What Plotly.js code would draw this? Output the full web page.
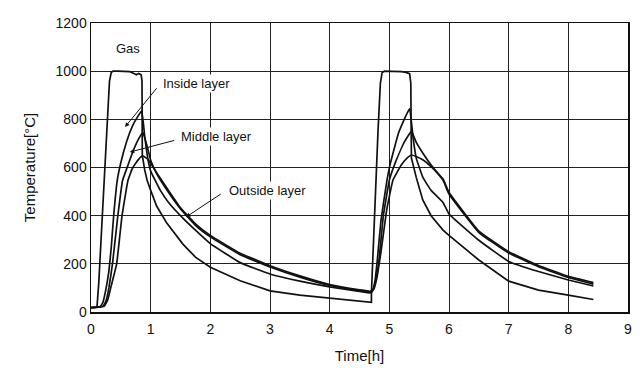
<!DOCTYPE html>
<html>
<head>
<meta charset="utf-8">
<script src="https://cdn.plot.ly/plotly-3.0.1.min.js"></script>
<style>html,body{margin:0;padding:0;background:#fff;}#chart{width:642px;height:372px;}</style>
</head>
<body>
<div id="chart"></div>
<script>
// Time [h] and temperature [°C] readings for each curve
const gasTime = [0, 0.1, 0.13, 0.17, 0.22, 0.27, 0.31, 0.34, 0.37, 0.45, 0.55, 0.65, 0.72, 0.76, 0.8, 0.84, 0.855, 0.86, 0.9, 0.94, 1.0, 1.1, 1.27, 1.54, 1.75, 2.0, 2.5, 3.0, 3.5, 4.0, 4.5, 4.7, 4.7, 4.74, 4.77, 4.81, 4.85, 4.88, 4.92, 5.0, 5.1, 5.2, 5.28, 5.34, 5.36, 5.37, 5.45, 5.56, 5.7, 5.9, 6.0, 6.5, 7.0, 7.5, 8.0, 8.42];
const gasTemp = [18, 20, 120, 320, 560, 800, 960, 995, 1000, 1000, 1000, 998, 990, 985, 990, 985, 960, 650, 590, 547, 505, 440, 369, 282, 228, 186, 130, 88, 70, 58, 46, 40, 79, 330, 547, 750, 950, 995, 1000, 1000, 1000, 998, 995, 990, 950, 640, 560, 465, 400, 340, 318, 216, 128, 91, 70, 52];

const insideTime = [0, 0.15, 0.2, 0.25, 0.3, 0.34, 0.38, 0.44, 0.5, 0.6, 0.7, 0.78, 0.85, 0.9, 0.95, 1.0, 1.16, 1.3, 1.54, 1.75, 2.0, 2.5, 3.0, 3.5, 4.0, 4.5, 4.68, 4.72, 4.76, 4.8, 4.86, 4.96, 5.02, 5.15, 5.25, 5.34, 5.4, 5.45, 5.56, 5.7, 5.9, 6.0, 6.5, 7.0, 7.5, 8.0, 8.42];
const insideTemp = [18, 22, 40, 95, 170, 270, 400, 547, 620, 710, 775, 810, 835, 730, 640, 585, 506, 455, 390, 340, 284, 205, 158, 128, 104, 85, 79, 88, 130, 220, 380, 547, 620, 740, 800, 845, 720, 640, 560, 505, 455, 407, 298, 210, 168, 133, 108];

const middleTime = [0, 0.2, 0.25, 0.3, 0.36, 0.45, 0.53, 0.62, 0.7, 0.8, 0.87, 0.95, 1.0, 1.1, 1.29, 1.5, 1.75, 2.0, 2.5, 3.0, 3.5, 4.0, 4.5, 4.68, 4.72, 4.76, 4.82, 4.9, 5.0, 5.1, 5.25, 5.37, 5.45, 5.56, 5.7, 5.9, 6.0, 6.5, 7.0, 7.5, 8.0, 8.42];
const middleTemp = [18, 24, 45, 100, 200, 400, 547, 610, 665, 720, 745, 680, 630, 575, 500, 428, 360, 312, 238, 187, 145, 110, 88, 82, 90, 120, 200, 400, 547, 620, 705, 750, 705, 660, 610, 548, 490, 330, 245, 188, 143, 116];

const outsideTime = [0, 0.22, 0.28, 0.34, 0.43, 0.52, 0.62, 0.7, 0.8, 0.87, 0.95, 1.0, 1.1, 1.29, 1.5, 1.75, 2.0, 2.5, 3.0, 3.5, 4.0, 4.5, 4.68, 4.74, 4.79, 4.86, 4.96, 5.06, 5.2, 5.3, 5.37, 5.45, 5.56, 5.7, 5.9, 6.0, 6.5, 7.0, 7.5, 8.0, 8.42];
const outsideTemp = [18, 24, 50, 110, 200, 400, 547, 600, 635, 648, 635, 618, 578, 508, 433, 366, 318, 244, 192, 150, 114, 92, 86, 95, 140, 250, 430, 547, 610, 640, 652, 646, 632, 604, 552, 496, 336, 250, 193, 148, 122];

const xTicks = [0, 1, 2, 3, 4, 5, 6, 7, 8, 9];
const yTicks = [0, 200, 400, 600, 800, 1000, 1200];

const lineStyle = {color: '#111', width: 1.7, shape: 'spline', smoothing: 0.3};
const traces = [
  {x: gasTime, y: gasTemp, name: 'Gas', mode: 'lines', line: Object.assign({}, lineStyle, {shape: 'linear'})},
  {x: insideTime, y: insideTemp, name: 'Inside layer', mode: 'lines', line: lineStyle},
  {x: middleTime, y: middleTemp, name: 'Middle layer', mode: 'lines', line: lineStyle},
  {x: outsideTime, y: outsideTemp, name: 'Outside layer', mode: 'lines', line: lineStyle}
];

const fontFam = 'Liberation Sans, Arial, sans-serif';
const annFont = {family: fontFam, size: 13, color: '#111'};
const layout = {
  width: 642, height: 372,
  margin: {l: 91, r: 14, t: 23, b: 60},
  paper_bgcolor: '#fff', plot_bgcolor: '#fff',
  showlegend: false,
  font: {family: fontFam, size: 13, color: '#111'},
  xaxis: {
    range: [0, 9], tickvals: xTicks, ticktext: xTicks.map(String),
    showgrid: true, gridcolor: '#222', gridwidth: 1,
    showline: true, linecolor: '#111', linewidth: 1.5, mirror: true,
    zeroline: false, ticks: '', ticklen: 0, ticklabelstandoff: 4,
    tickfont: {family: fontFam, size: 14, color: '#111'},
    title: {text: 'Time[h]', font: {family: fontFam, size: 15, color: '#111'}, standoff: 14}
  },
  yaxis: {
    range: [0, 1200], tickvals: yTicks, ticktext: yTicks.map(String),
    showgrid: true, gridcolor: '#222', gridwidth: 1,
    showline: true, linecolor: '#111', linewidth: 1.5, mirror: true,
    zeroline: false, ticks: '', ticklen: 0,
    tickfont: {family: fontFam, size: 14, color: '#111'},
    title: {text: 'Temperature[°C]', font: {family: fontFam, size: 15, color: '#111'}, standoff: 16}
  },
  annotations: [
    {x: 0.62, y: 1095, xref: 'x', yref: 'y', text: 'Gas', showarrow: false, font: annFont, bgcolor: '#fff'},
    {x: 1.17, y: 950, xref: 'x', yref: 'y', text: 'Inside layer', showarrow: false, xanchor: 'left', font: annFont, bgcolor: '#fff'},
    {x: 0.57, y: 768, xref: 'x', yref: 'y', ax: 1.12, ay: 935, axref: 'x', ayref: 'y', text: '', showarrow: true, arrowhead: 2, arrowsize: 0.9, arrowwidth: 1, arrowcolor: '#111'},
    {x: 1.47, y: 730, xref: 'x', yref: 'y', text: 'Middle layer', showarrow: false, xanchor: 'left', font: annFont, bgcolor: '#fff'},
    {x: 0.65, y: 664, xref: 'x', yref: 'y', ax: 1.42, ay: 714, axref: 'x', ayref: 'y', text: '', showarrow: true, arrowhead: 2, arrowsize: 0.9, arrowwidth: 1, arrowcolor: '#111'},
    {x: 2.28, y: 506, xref: 'x', yref: 'y', text: 'Outside layer', showarrow: false, xanchor: 'left', font: annFont, bgcolor: '#fff'},
    {x: 1.59, y: 394, xref: 'x', yref: 'y', ax: 2.2, ay: 494, axref: 'x', ayref: 'y', text: '', showarrow: true, arrowhead: 2, arrowsize: 0.9, arrowwidth: 1, arrowcolor: '#111'}
  ]
};
Plotly.newPlot('chart', traces, layout, {staticPlot: true, displayModeBar: false});
</script>
</body>
</html>
